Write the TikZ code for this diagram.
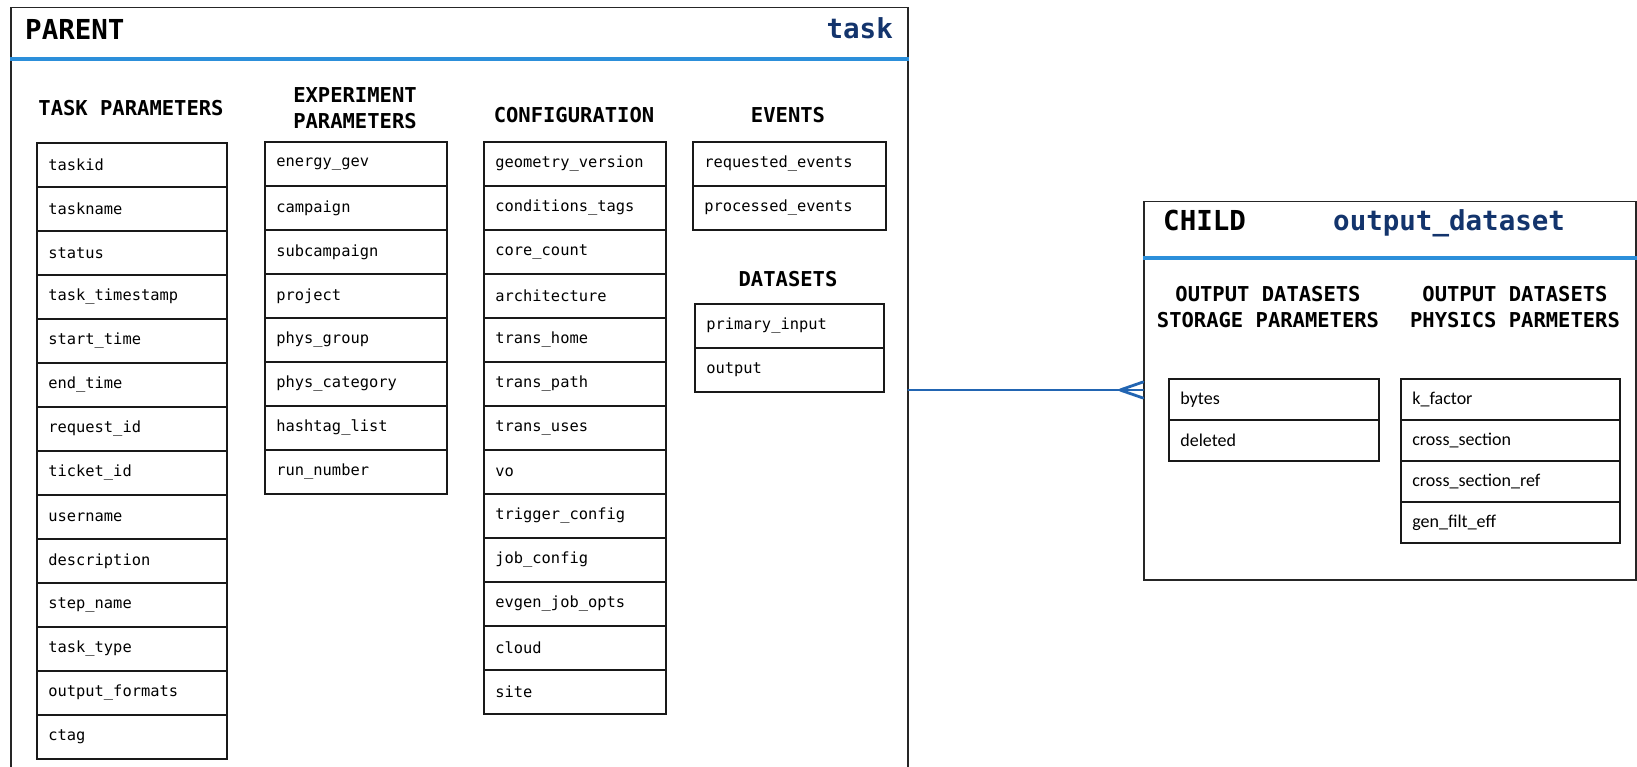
\documentclass[tikz,border=0pt]{standalone}
\usepackage{fontspec}
\setmonofont{DejaVu Sans Mono}
\newfontfamily\calfont{Carlito}
\usetikzlibrary{arrows.meta}

\definecolor{sepblue}{HTML}{2C8FDA}
\definecolor{linkblue}{HTML}{2265B2}
\definecolor{titlenavy}{HTML}{13346C}

\newcommand\fieldfont{\fontsize{15.4}{18}\selectfont\ttfamily}
\newcommand\childfieldfont{\fontsize{18}{21}\selectfont\calfont}
\newcommand\headfont{\fontsize{20.5}{26}\selectfont\ttfamily\bfseries}
\newcommand\titlefont{\fontsize{27.5}{32}\selectfont\ttfamily\bfseries}

% one column of stacked attribute rows
\newcommand\fieldcolumn[7]{% name, x, y, width, row height, font, entries
  \pgfmathsetmacro\colw{#4-23}
  \foreach \entry [count=\i] in {#7} {
    \node[fieldrow, font=#6, minimum width=#4pt, minimum height=#5pt, text width=\colw pt]
      (#1-\i) at (#2, {#3+(\i-1)*#5}) {\entry};
  }}

\tikzset{
  x=1pt, y=-1pt,
  entity/.style={draw=black!85, line width=1.5pt, rectangle, anchor=north west, inner sep=0pt},
  separator/.style={draw=sepblue, line width=3.2pt},
  fieldrow/.style={draw=black!90, line width=1.7pt, rectangle, anchor=north west,
    inner xsep=11.5pt, inner ysep=0pt, align=left},
  heading/.style={font=\headfont, align=center, inner sep=0pt},
  link/.style={draw=linkblue, line width=2.8pt, line join=round, line cap=round},
}

\begin{document}
\begin{tikzpicture}
\useasboundingbox (0,0) rectangle (1637,767);
\clip (0,0) rectangle (1637,767);

% ---------- parent entity ----------
\node[entity, minimum width=897pt, minimum height=800pt] (parent) at (10,7) {};
\coordinate (psep) at (10,59);
\draw[separator] (psep) -- (psep -| parent.east);
\node[font=\titlefont, anchor=base west, inner sep=0pt] (ptitle) at (25,40) {PARENT};
\node[font=\titlefont, text=titlenavy, anchor=base east, inner sep=0pt] (pname) at (893,39) {task};

\node[heading] (h-task) at (131,108) {TASK PARAMETERS};
\node[heading] (h-exp) at (355,108) {EXPERIMENT\\PARAMETERS};
\node[heading] (h-conf) at (574,115) {CONFIGURATION};
\node[heading] (h-events) at (788,115) {EVENTS};
\node[heading] (h-data) at (788,279) {DATASETS};

\fieldcolumn{task}{36}{142}{190}{44}{\fieldfont}{taskid, taskname, status, task\_timestamp,
  start\_time, end\_time, request\_id, ticket\_id, username, description, step\_name,
  task\_type, output\_formats, ctag}
\fieldcolumn{exp}{264}{141}{182}{44}{\fieldfont}{energy\_gev, campaign, subcampaign, project,
  phys\_group, phys\_category, hashtag\_list, run\_number}
\fieldcolumn{conf}{483}{141}{182}{44}{\fieldfont}{geometry\_version, conditions\_tags,
  core\_count, architecture, trans\_home, trans\_path, trans\_uses, vo, trigger\_config,
  job\_config, evgen\_job\_opts, cloud, site}
\fieldcolumn{events}{692}{141}{193}{44}{\fieldfont}{requested\_events, processed\_events}
\fieldcolumn{data}{694}{303}{189}{44}{\fieldfont}{primary\_input, output}

% ---------- child entity ----------
\node[entity, minimum width=492pt, minimum height=378pt] (child) at (1143,201) {};
\coordinate (csep) at (1143,258);
\draw[separator] (csep) -- (csep -| child.east);
\node[font=\titlefont, anchor=base west, inner sep=0pt] (ctitle) at (1163,231) {CHILD};
\node[font=\titlefont, text=titlenavy, anchor=base west, inner sep=0pt] (cname) at (1333,231) {output\_dataset};

\node[heading] (h-store) at (1268,307) {OUTPUT DATASETS\\STORAGE PARAMETERS};
\node[heading] (h-phys) at (1515,307) {OUTPUT DATASETS\\PHYSICS PARMETERS};

\fieldcolumn{store}{1168}{378}{210}{41}{\childfieldfont}{bytes, deleted}
\fieldcolumn{phys}{1400}{378}{219}{41}{\childfieldfont}{k\_factor, cross\_section,
  cross\_section\_ref, gen\_filt\_eff}

% ---------- one-to-many relationship ----------
\coordinate (rel) at (0,390);
\draw[link] (parent.east |- rel) -- (child.west |- rel);
\draw[link] (child.west |- rel) ++(0,-8) -- ++(-23,8) -- ++(23,8);
\end{tikzpicture}
\end{document}
